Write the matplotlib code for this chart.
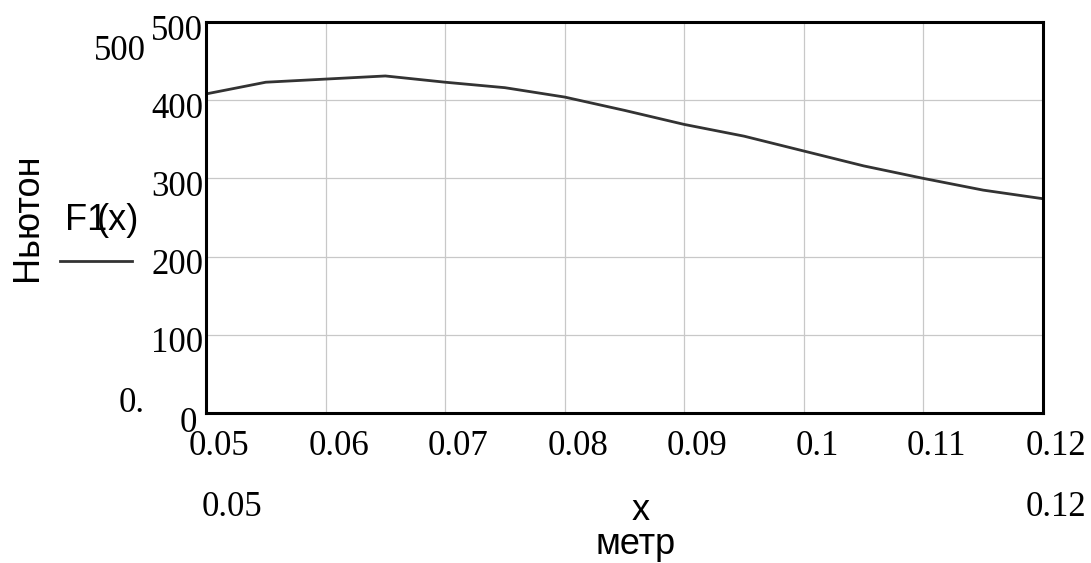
import matplotlib.pyplot as plt
import matplotlib.transforms as mtransforms

# F1(x) values
x = [0.05, 0.055, 0.06, 0.065, 0.07, 0.075, 0.08, 0.085, 0.09, 0.095,
     0.1, 0.105, 0.11, 0.115, 0.12]
F1 = [408, 423, 427, 431, 423, 416, 404, 387, 369, 354,
      335, 316, 300, 285, 274]
xticks = [0.05, 0.06, 0.07, 0.08, 0.09, 0.1, 0.11, 0.12]
xticklabels = ["0.05", "0.06", "0.07", "0.08", "0.09", "0.1", "0.11", "0.12"]
yticks = [0, 100, 200, 300, 400, 500]
yticklabels = ["0", "100", "200", "300", "400", "500"]

W, H = 1091, 563
serif = "Liberation Serif"
sans = "Liberation Sans"
fs_num = 25
fs_txt = 26

fig = plt.figure(figsize=(W / 100, H / 100), dpi=100)
ax = fig.add_axes([206 / W, 1 - 413 / H, (1043 - 206) / W, (413 - 22) / H])

ax.plot(x, F1, color="#333333", lw=2.0, solid_joinstyle="round")
ax.set_xlim(0.05, 0.12)
ax.set_ylim(0, 500)

ax.set_xticks(xticks)
ax.set_xticklabels(xticklabels, fontfamily=serif, fontsize=fs_num)
ax.set_yticks(yticks)
ax.set_yticklabels(yticklabels, fontfamily=serif, fontsize=fs_num)
ax.tick_params(axis="x", length=0, pad=12)
ax.tick_params(axis="y", length=0, pad=2)
ax.grid(True, color="#c8c8c8", lw=0.9)
ax.set_axisbelow(True)
for s in ax.spines.values():
    s.set_linewidth(2.2)
    s.set_color("black")

# mathcad style label offsets
dx = mtransforms.ScaledTranslation(13 / 100, 0, fig.dpi_scale_trans)
dy = mtransforms.ScaledTranslation(0, -5 / 100, fig.dpi_scale_trans)
dy0 = mtransforms.ScaledTranslation(-6 / 100, -6 / 100, fig.dpi_scale_trans)
for t in ax.xaxis.get_major_ticks():
    t.label1.set_transform(t.label1.get_transform() + dx)
for i, t in enumerate(ax.yaxis.get_major_ticks()):
    t.label1.set_transform(t.label1.get_transform() + (dy0 if i == 0 else dy))


def px(a, b):
    return a / W, 1 - b / H


# outer limit labels
fig.text(*px(146, 51), "500", fontfamily=serif, fontsize=fs_num, ha="right", va="center")
fig.text(*px(145, 404), "0.", fontfamily=serif, fontsize=fs_num, ha="right", va="center")
fig.text(*px(232, 508), "0.05", fontfamily=serif, fontsize=fs_num, ha="center", va="center")
fig.text(*px(1056, 508), "0.12", fontfamily=serif, fontsize=fs_num, ha="center", va="center")

# axis names
fig.text(*px(641, 510), "x", fontfamily=sans, fontsize=fs_txt, ha="center", va="center")
fig.text(*px(636, 545), "метр", fontfamily=sans, fontsize=fs_txt, ha="center", va="center")
fig.text(*px(27, 217), "Ньютон", fontfamily=sans, fontsize=fs_txt, ha="center", va="center",
         rotation=90)

# trace label
fig.text(*px(86, 221), "F1", fontfamily=sans, fontsize=fs_txt, ha="center", va="center")
fig.text(*px(118, 221), "(x)", fontfamily=sans, fontsize=fs_txt, ha="center", va="center")
fig.add_artist(plt.Line2D([60 / W, 132 / W], [1 - 261 / H, 1 - 261 / H],
                          color="#333333", lw=2.0))

fig.savefig("out.png", dpi=100)
